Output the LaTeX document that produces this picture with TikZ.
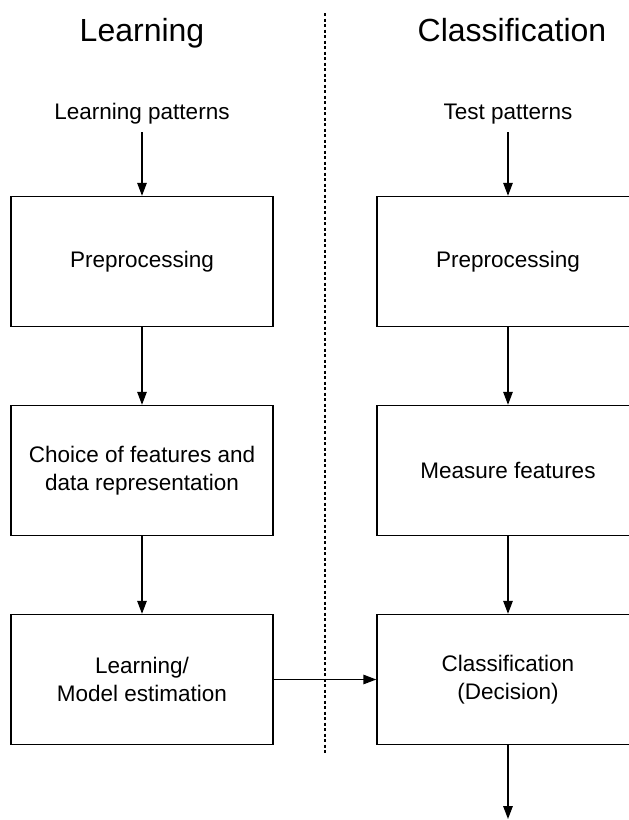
\documentclass[tikz,border=0pt]{standalone}
\usepackage{fontspec}
\setmainfont{Liberation Sans}
\usetikzlibrary{arrows.meta}
\begin{document}
\begin{tikzpicture}[x=1pt,y=-1pt,
  box/.style={draw,line width=1.4pt,minimum width=262pt,minimum height=130pt,align=center,inner sep=0pt,
    font=\fontsize{22.5}{28}\selectfont},
  lbl/.style={anchor=base,inner sep=0pt,font=\fontsize{22.5}{28}\selectfont},
  ttl/.style={anchor=base,inner sep=0pt,font=\fontsize{32}{38}\selectfont},
  conn/.style={line width=1.4pt,-{Triangle[length=13pt,width=9.5pt]}}]
\clip (0,0) rectangle (629,820);
\fill[white] (0,0) rectangle (629,820);
% titles
\node[ttl] (tl) at (142,41) {Learning};
\node[ttl] (tc) at (512,41) {Classification};
% inputs
\node[lbl] (lp) at (142,119) {Learning patterns};
\node[lbl] (tp) at (508,119) {Test patterns};
\coordinate (lps) at (142,132);
\coordinate (tps) at (508,132);
% left column
\node[box] (l1) at (142,261.5) {Preprocessing};
\node[box] (l2) at (142,470.5) {Choice of features and\\data representation};
\node[box] (l3) at (142,679.5) {Learning/\\Model estimation};
% right column
\node[box] (r1) at (508,261.5) {Preprocessing};
\node[box] (r2) at (508,470.5) {Measure features};
\node[box] (r3) at (508,679.5) {Classification\\(Decision)};
% separator
\coordinate (st) at (325,13);
\coordinate (sb) at (325,755);
\draw[line width=1.4pt,dash pattern=on 3pt off 2.5pt] (st) -- (sb);
% connectors
\draw[conn] (lps) -- (l1);
\draw[conn] (l1) -- (l2);
\draw[conn] (l2) -- (l3);
\draw[conn] (tps) -- (r1);
\draw[conn] (r1) -- (r2);
\draw[conn] (r2) -- (r3);
\draw[conn] (l3) -- (r3);
\coordinate (out) at (508,819);
\draw[conn] (r3) -- (out);
\end{tikzpicture}
\end{document}
